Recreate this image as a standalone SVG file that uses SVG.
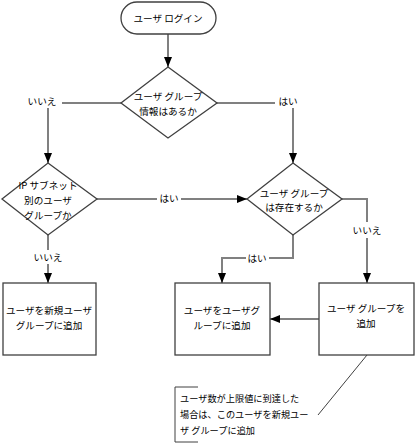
<svg xmlns="http://www.w3.org/2000/svg" width="415" height="444" viewBox="0 0 415 444">
<defs>
<style>
text{font-family:"Noto Sans CJK JP","Liberation Sans",sans-serif;font-size:9.6px;fill:#000;text-anchor:middle;dominant-baseline:central}
.shape{fill:#fff;stroke:#404040;stroke-width:1.3}
.conn{fill:none;stroke:#808080;stroke-width:2}
.note{fill:none;stroke:#404040;stroke-width:1}
.nt{text-anchor:start;font-size:9.2px}
</style>
<marker id="ah" markerWidth="10" markerHeight="8" refX="10" refY="4" orient="auto" markerUnits="userSpaceOnUse">
<path d="M0,0 L10,4 L0,8 Z" fill="#000"/>
</marker>
</defs>
<rect width="415" height="444" fill="#fff"/>
<g id="connectors">
<line class="conn" x1="168" y1="34" x2="168" y2="67" marker-end="url(#ah)"/>
<polyline class="conn" points="121,103 62,103"/>
<line class="conn" x1="48" y1="108" x2="48" y2="163" marker-end="url(#ah)"/>
<polyline class="conn" points="217,103 275,103"/>
<line class="conn" x1="293" y1="108" x2="293" y2="163" marker-end="url(#ah)"/>
<line class="conn" x1="97" y1="199" x2="157" y2="199"/>
<line class="conn" x1="181" y1="199" x2="247" y2="199" marker-end="url(#ah)"/>
<line class="conn" x1="48" y1="235" x2="48" y2="250"/>
<line class="conn" x1="48" y1="264" x2="48" y2="283" marker-end="url(#ah)"/>
<polyline class="conn" points="293,235 293,258 269,258"/>
<polyline class="conn" points="246,258 222,258 222,283" marker-end="url(#ah)"/>
<polyline class="conn" points="342,199 367,199 367,222"/>
<line class="conn" x1="367" y1="238" x2="367" y2="283" marker-end="url(#ah)"/>
<line class="conn" x1="319" y1="319" x2="270" y2="319" marker-end="url(#ah)"/>
<line class="note" x1="367" y1="355" x2="318" y2="415"/>
</g>
<g id="labels">
<text x="42" y="101">いいえ</text>
<text x="288" y="101">はい</text>
<text x="169" y="198">はい</text>
<text x="48" y="257">いいえ</text>
<text x="257" y="258">はい</text>
<text x="367" y="230">いいえ</text>
</g>
<g id="start">
<rect class="shape" x="121" y="2" width="95" height="32" rx="16"/>
<text x="168" y="18">ユーザ ログイン</text>
</g>
<g id="decision1">
<polygon class="shape" points="168,67 217,103 168,138 121,103"/>
<text x="168" y="96">ユーザ グループ</text>
<text x="168" y="111">情報はあるか</text>
</g>
<g id="decision2">
<polygon class="shape" points="48,163 97,199 48,235 2,199"/>
<text x="48" y="185">IP サブネット</text>
<text x="48" y="200">別のユーザ</text>
<text x="48" y="215">グループか</text>
</g>
<g id="decision3">
<polygon class="shape" points="293,163 342,199 293,235 247,199"/>
<text x="294" y="193">ユーザ グループ</text>
<text x="294" y="207">は存在するか</text>
</g>
<g id="box1">
<rect class="shape" x="3" y="283" width="93" height="72"/>
<text x="49" y="310">ユーザを新規ユーザ</text>
<text x="49" y="325">グループに追加</text>
</g>
<g id="box2">
<rect class="shape" x="175" y="283" width="95" height="72"/>
<text x="222" y="310">ユーザをユーザグ</text>
<text x="222" y="325">ループに追加</text>
</g>
<g id="box3">
<rect class="shape" x="319" y="283" width="95" height="72"/>
<text x="366" y="308">ユーザ グループを</text>
<text x="366" y="323">追加</text>
</g>
<g id="note">
<polyline class="note" points="198,387 175,387 175,442 198,442"/>
<text class="nt" x="180" y="398">ユーザ数が上限値に到達した</text>
<text class="nt" x="180" y="414">場合は、このユーザを新規ユー</text>
<text class="nt" x="180" y="430">ザ グループに追加</text>
</g>
</svg>
